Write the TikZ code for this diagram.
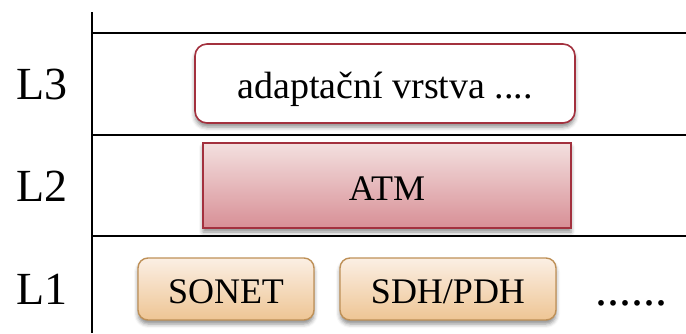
\documentclass[tikz,border=0pt]{standalone}
\usepackage{fontspec}
\setmainfont{Liberation Serif}
\usetikzlibrary{shadows.blur}
\definecolor{redline}{HTML}{A3313E}
\definecolor{atmtop}{HTML}{F3E0DF}
\definecolor{atmbot}{HTML}{D88F96}
\definecolor{orgline}{HTML}{BE9057}
\definecolor{orgtop}{HTML}{FBEFE4}
\definecolor{orgbot}{HTML}{EEC594}
\tikzset{
  rule/.style={line width=2pt, black},
  layerlabel/.style={font=\fontsize{46}{50}\selectfont, inner sep=0pt},
  boxshadow/.style={blur shadow={shadow xshift=0pt, shadow yshift=-4pt, shadow blur radius=4pt, shadow opacity=45}},
  l3box/.style={draw=redline, line width=1.6pt, fill=white, rounded corners=12pt,
    inner sep=0pt, text height=29pt, text depth=0pt, boxshadow, font=\fontsize{38}{40}\selectfont},
  atmbox/.style={draw=redline, line width=1.6pt, top color=atmtop, bottom color=atmbot,
    inner sep=0pt, text height=29pt, text depth=0pt, boxshadow, font=\fontsize{36}{40}\selectfont},
  physbox/.style={draw=orgline, line width=1.4pt, top color=orgtop, bottom color=orgbot,
    rounded corners=10pt, inner sep=0pt, text height=28pt, text depth=0pt, boxshadow,
    font=\fontsize{36}{40}\selectfont},
}
\begin{document}
\begin{tikzpicture}[x=1pt, y=-1pt]
\useasboundingbox (0,0) rectangle (686,333);

% axis and layer separators
\coordinate (axtop) at (92,12);
\coordinate (axbot) at (92,333);
\draw[rule] (axtop) -- (axbot);
\coordinate (s1a) at (93,33);  \coordinate (s1b) at (686,33);
\coordinate (s2a) at (93,135); \coordinate (s2b) at (686,135);
\coordinate (s3a) at (93,236); \coordinate (s3b) at (686,236);
\draw[rule] (s1a) -- (s1b);
\draw[rule] (s2a) -- (s2b);
\draw[rule] (s3a) -- (s3b);

% layer labels
\node[layerlabel] (l3) at (42,84) {L3};
\node[layerlabel] (l2) at (42,186) {L2};
\node[layerlabel] (l1) at (42,289) {L1};

% layer boxes
\node[l3box, minimum width=380pt, minimum height=79pt] (adapt) at (385,83.5) {adaptační vrstva ....};
\node[atmbox, minimum width=368pt, minimum height=85pt] (atm) at (387,185.5) {ATM};
\node[physbox, minimum width=176pt, minimum height=62pt] (sonet) at (226,289) {SONET};
\node[physbox, minimum width=216pt, minimum height=62pt] (sdh) at (448,289) {SDH/PDH};
\node[inner sep=0pt, anchor=base, font=\fontsize{48}{50}\selectfont] (more) at (631,305) {......};
\end{tikzpicture}
\end{document}
